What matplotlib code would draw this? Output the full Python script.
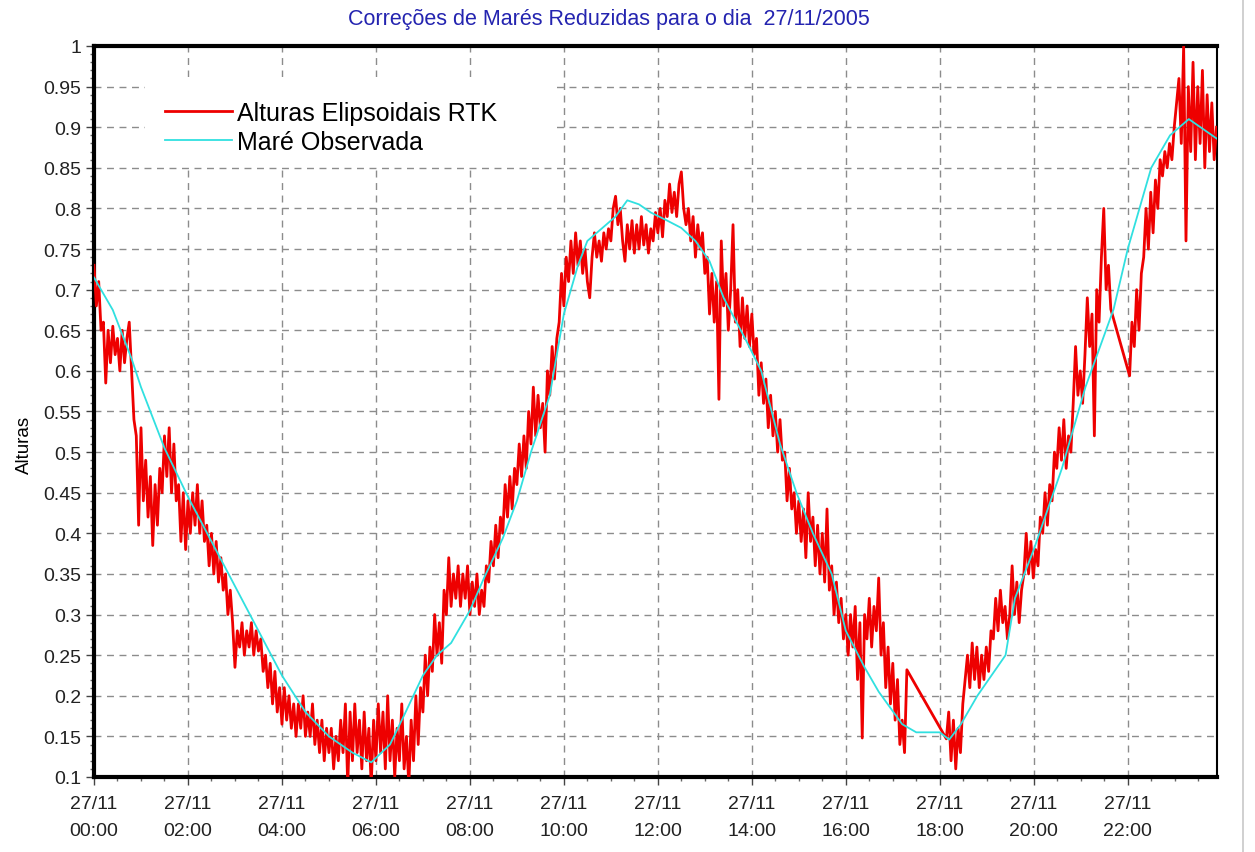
import numpy as np
import matplotlib
matplotlib.use('Agg')
import matplotlib.pyplot as plt
from matplotlib.patches import Rectangle
from matplotlib.lines import Line2D
from matplotlib.ticker import MultipleLocator, FuncFormatter

plt.rcParams['font.family'] = ['Liberation Sans', 'DejaVu Sans']

# Alturas elipsoidais RTK (amostras a cada 0.05 h), em tres trechos
rtk_a_inicio = 0.00
rtk_a = [
    0.73, 0.68, 0.71, 0.65, 0.66, 0.585, 0.65, 0.61, 0.655, 0.62, 0.64, 0.60, 0.65, 0.61, 0.64, 0.66, 0.60, 0.54, 0.52, 0.41,
    0.53, 0.44, 0.49, 0.42, 0.47, 0.385, 0.46, 0.41, 0.48, 0.45, 0.52, 0.47, 0.53, 0.45, 0.51, 0.44, 0.46, 0.39, 0.45, 0.38,
    0.44, 0.40, 0.45, 0.41, 0.46, 0.40, 0.44, 0.39, 0.41, 0.36, 0.40, 0.35, 0.39, 0.34, 0.37, 0.33, 0.35, 0.30, 0.33, 0.29,
    0.235, 0.28, 0.26, 0.29, 0.25, 0.28, 0.26, 0.29, 0.25, 0.28, 0.255, 0.27, 0.23, 0.25, 0.21, 0.24, 0.19, 0.23, 0.18, 0.21,
    0.165, 0.21, 0.17, 0.20, 0.16, 0.19, 0.15, 0.19, 0.16, 0.20, 0.15, 0.18, 0.15, 0.19, 0.14, 0.17, 0.13, 0.17, 0.12, 0.16,
    0.13, 0.16, 0.11, 0.15, 0.12, 0.17, 0.13, 0.19, 0.09, 0.18, 0.12, 0.19, 0.13, 0.17, 0.11, 0.18, 0.12, 0.16, 0.09, 0.17,
    0.12, 0.19, 0.13, 0.18, 0.11, 0.20, 0.12, 0.17, 0.10, 0.16, 0.12, 0.19, 0.11, 0.15, 0.09, 0.17, 0.12, 0.20, 0.14, 0.21,
    0.18, 0.25, 0.20, 0.26, 0.23, 0.30, 0.25, 0.29, 0.24, 0.33, 0.30, 0.37, 0.31, 0.35, 0.32, 0.36, 0.31, 0.35, 0.32, 0.36,
    0.30, 0.34, 0.31, 0.35, 0.30, 0.33, 0.31, 0.36, 0.34, 0.39, 0.36, 0.41, 0.37, 0.42, 0.40, 0.46, 0.42, 0.47, 0.43, 0.48,
    0.46, 0.51, 0.47, 0.52, 0.48, 0.55, 0.51, 0.58, 0.52, 0.57, 0.53, 0.56, 0.50, 0.60, 0.57, 0.63, 0.59, 0.64, 0.66, 0.72,
    0.68, 0.74, 0.71, 0.76, 0.72, 0.77, 0.73, 0.76, 0.72, 0.75, 0.71, 0.69, 0.74, 0.77, 0.74, 0.76, 0.735, 0.77, 0.75, 0.775,
    0.76, 0.80, 0.815, 0.78, 0.80, 0.76, 0.735, 0.78, 0.75, 0.785, 0.745, 0.78, 0.75, 0.79, 0.755, 0.78, 0.745, 0.775, 0.76, 0.795,
    0.77, 0.80, 0.765, 0.81, 0.79, 0.83, 0.795, 0.82, 0.79, 0.83, 0.845, 0.80, 0.78, 0.80, 0.76, 0.79, 0.74, 0.78, 0.75, 0.77,
    0.72, 0.74, 0.67, 0.72, 0.66, 0.71, 0.565, 0.76, 0.68, 0.72, 0.65, 0.70, 0.78, 0.66, 0.70, 0.63, 0.69, 0.64, 0.68, 0.63,
    0.67, 0.62, 0.64, 0.57, 0.61, 0.56, 0.59, 0.53, 0.57, 0.52, 0.55, 0.50, 0.54, 0.49, 0.50, 0.44, 0.48, 0.43, 0.45, 0.40,
    0.44, 0.39, 0.43, 0.37, 0.45, 0.39, 0.42, 0.36, 0.41, 0.35, 0.40, 0.34, 0.43, 0.33, 0.36, 0.30, 0.34, 0.29, 0.32, 0.27,
    0.30, 0.25, 0.30, 0.26, 0.31, 0.22, 0.29, 0.148, 0.30, 0.27, 0.32, 0.26, 0.31, 0.28, 0.345, 0.25, 0.29, 0.21, 0.26, 0.19,
    0.24, 0.17, 0.22, 0.14, 0.17, 0.13, 0.232,
]
rtk_b_inicio = 18.14
rtk_b = [
    0.147, 0.18, 0.12, 0.17, 0.11, 0.16, 0.13, 0.19, 0.22, 0.25, 0.21, 0.265, 0.22, 0.26, 0.21, 0.25, 0.22, 0.26, 0.23, 0.28,
    0.27, 0.32, 0.28, 0.33, 0.29, 0.31, 0.27, 0.30, 0.36, 0.30, 0.34, 0.29, 0.33, 0.35, 0.40, 0.35, 0.39, 0.345, 0.38, 0.36,
    0.42, 0.40, 0.45, 0.41, 0.46, 0.44, 0.50, 0.48, 0.53, 0.49, 0.54, 0.48, 0.52, 0.50, 0.56, 0.63, 0.57, 0.60, 0.56, 0.62,
    0.69, 0.63, 0.67, 0.52, 0.70, 0.66, 0.74, 0.80, 0.70, 0.73, 0.676,
]
rtk_c_inicio = 22.04
rtk_c = [
    0.594, 0.66, 0.63, 0.70, 0.65, 0.72, 0.74, 0.80, 0.75, 0.82, 0.77, 0.835, 0.80, 0.86, 0.84, 0.87, 0.85, 0.88, 0.86, 0.90,
    0.93, 0.96, 0.88, 1.0, 0.76, 0.95, 0.87, 0.98, 0.86, 0.95, 0.88, 0.97, 0.85, 0.94, 0.87, 0.93, 0.86, 0.90,
]
passo = 0.05

# Mare observada
mare_horas = [0, 0.4, 0.8, 1, 1.5, 2, 2.5, 3, 3.5, 4, 4.5, 5, 5.5, 5.9, 6.3, 6.6, 7, 7.3, 7.6, 8, 8.3, 8.7,
              9, 9.3, 9.7, 10, 10.3, 10.5, 10.8, 11.1, 11.35, 11.6, 11.85, 12.2, 12.5, 12.8, 13.1, 13.4, 13.9,
              14.2, 14.6, 14.95, 15.3, 15.7, 16, 16.4, 16.7, 17.2, 17.5, 18.0, 18.2, 18.45, 18.8, 19.1, 19.4,
              19.6, 20, 20.6, 21.1, 21.7, 22, 22.5, 22.9, 23.3, 23.92]
mare_valores = [0.715, 0.675, 0.615, 0.58, 0.505, 0.445, 0.39, 0.335, 0.28, 0.225, 0.18, 0.15, 0.13, 0.118, 0.14,
                0.176, 0.225, 0.25, 0.265, 0.305, 0.345, 0.394, 0.44, 0.50, 0.57, 0.67, 0.73, 0.76, 0.775, 0.79,
                0.81, 0.805, 0.795, 0.785, 0.776, 0.76, 0.735, 0.69, 0.635, 0.60, 0.51, 0.45, 0.40, 0.35, 0.28,
                0.235, 0.205, 0.165, 0.155, 0.155, 0.146, 0.165, 0.20, 0.225, 0.25, 0.32, 0.38, 0.48, 0.58, 0.676,
                0.75, 0.85, 0.89, 0.91, 0.885]

rotulos_x = ['27/11\n%02d:00' % h for h in range(0, 24, 2)]

# tempos dos trechos RTK
t_rtk = np.concatenate([
    rtk_a_inicio + passo * np.arange(len(rtk_a)),
    rtk_b_inicio + passo * np.arange(len(rtk_b)),
    rtk_c_inicio + passo * np.arange(len(rtk_c)),
])
v_rtk = np.array(rtk_a + rtk_b + rtk_c)

fig = plt.figure(figsize=(12.55, 8.53), dpi=100)
ax = fig.add_axes([94 / 1255, 1 - 778 / 853, (1217 - 94) / 1255, (778 - 47) / 853])

ax.plot(t_rtk, v_rtk, color='#ee0000', lw=2.0, zorder=3, label='Alturas Elipsoidais RTK')
ax.plot(mare_horas, mare_valores, color='#30e0e0', lw=1.3, zorder=4, label='Maré Observada')

ax.set_xlim(0, 23.9)
ax.set_ylim(0.1, 1.0)
ax.xaxis.set_minor_locator(MultipleLocator(0.5))
ax.set_xticks(range(0, 24, 2))
ax.set_xticklabels(rotulos_x, linespacing=1.8)
ax.yaxis.set_major_locator(MultipleLocator(0.05))
ax.yaxis.set_minor_locator(MultipleLocator(0.01))
ax.yaxis.set_major_formatter(FuncFormatter(lambda v, p: '%g' % round(v, 2)))

ax.tick_params(axis='both', which='major', labelsize=14, labelcolor='#222222', length=6, width=1, color='#444444')
ax.tick_params(axis='both', which='minor', length=3, width=1, color='#666666')
ax.tick_params(axis='x', pad=7)
ax.tick_params(axis='y', pad=3)

ax.set_axisbelow(True)
ax.grid(True, which='major', color='#8c8c8c', linestyle=(0, (5, 4)), linewidth=1)

for lado in ['left', 'bottom', 'top']:
    ax.spines[lado].set_linewidth(3)
ax.spines['right'].set_linewidth(1.5)

ax.set_ylabel('Alturas', fontsize=13.5)
ax.yaxis.set_label_coords(-0.054, 0.455)
fig.text(609 / 1255, 1 - 20 / 853, 'Correções de Marés Reduzidas para o dia  27/11/2005',
         fontsize=15.5, color='#2424b0', ha='center', va='center')

# caixa branca da legenda
ax.add_patch(Rectangle((0.045, 0.836), 0.367, 0.122, transform=ax.transAxes,
                       facecolor='white', edgecolor='none', zorder=2))
ax.legend(loc='upper left', bbox_to_anchor=(0.063, 0.925), frameon=False, fontsize=18,
          handlelength=2.7, handletextpad=0.2, labelspacing=0.2, borderaxespad=0, borderpad=0)

fig.add_artist(Line2D([0.9905, 0.9905], [0, 1], color='#c8c8c8', lw=1.2))

fig.savefig('out.png', dpi=100)
